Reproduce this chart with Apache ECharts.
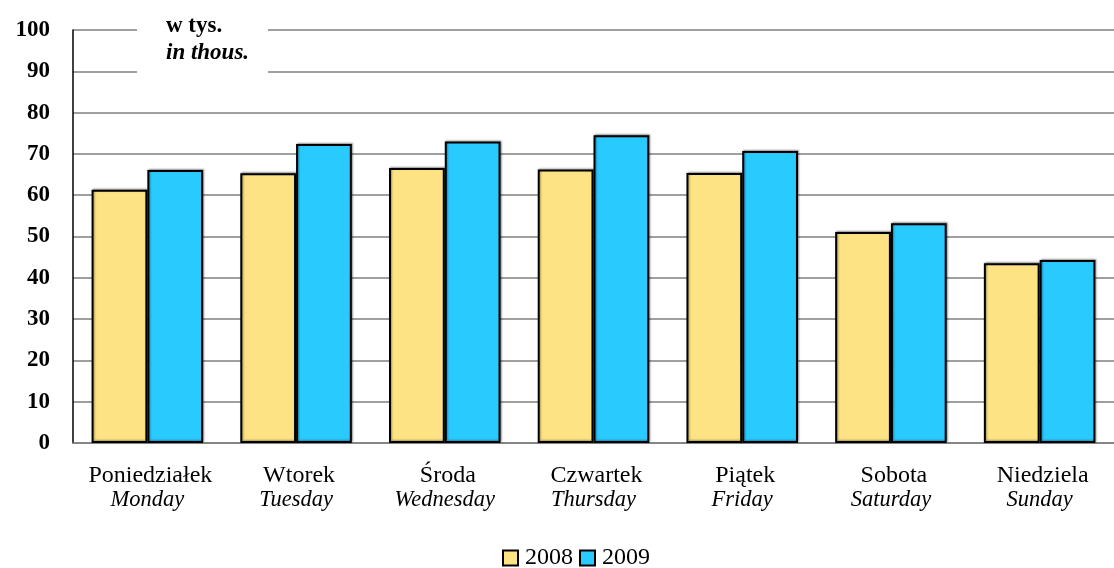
<!DOCTYPE html>
<html><head><meta charset="utf-8">
<script src="https://cdn.jsdelivr.net/npm/echarts@6/dist/echarts.min.js"></script>
<style>html,body{margin:0;padding:0;background:#fff}#c{width:1114px;height:568px}</style>
</head><body><div id="c"></div>
<script>
const categoriesPL = ['Poniedziałek','Wtorek','Środa','Czwartek','Piątek','Sobota','Niedziela'];
const categoriesEN = ['Monday','Tuesday','Wednesday','Thursday','Friday','Saturday','Sunday'];
const values2008 = [61.3, 65.3, 66.6, 66.2, 65.4, 51.1, 43.5];
const values2009 = [66.1, 72.4, 73.0, 74.5, 70.7, 53.2, 44.3];
const seriesNames = ['2008','2009'];
const unitLines = ['w tys.','in thous.'];

const FF = '"Liberation Serif","Times New Roman",serif';
const chart = echarts.init(document.getElementById('c'));
const barStyle = (c) => ({color:c, borderColor:'#000', borderWidth:2,
  shadowColor:'rgba(0,0,0,0.35)', shadowBlur:2, shadowOffsetX:1, shadowOffsetY:-1});
chart.setOption({
  animation:false,
  backgroundColor:'#fff',
  grid:{left:73, top:30, width:1048, height:413, containLabel:false},
  legend:{
    top:541, left:497, itemWidth:15, itemHeight:15, itemGap:6,
    icon:'rect',
    textStyle:{fontFamily:FF, fontSize:24, color:'#000', padding:[0,0,0,2]},
    data:seriesNames
  },
  xAxis:{
    type:'category',
    data:categoriesPL.map((p,i)=>p+'\n'+categoriesEN[i]),
    axisTick:{show:false},
    axisLine:{lineStyle:{color:'#7f7f7f', width:1.5}},
    axisLabel:{
      margin:20, interval:0,
      formatter:(v)=>{const [a,b]=v.split('\n'); return '{a|'+a+'}\n{b|'+b+'}';},
      rich:{
        a:{fontFamily:FF, fontSize:24, color:'#000', lineHeight:25, padding:[0,0,0,6]},
        b:{fontFamily:FF, fontSize:22.5, fontStyle:'italic', color:'#000', lineHeight:25}
      }
    }
  },
  yAxis:{
    type:'value', min:0, max:100, interval:10,
    axisLine:{show:true, lineStyle:{color:'#000', width:1.5}},
    axisTick:{show:false},
    splitLine:{lineStyle:{color:'#7f7f7f', width:1.5}},
    axisLabel:{fontFamily:FF, fontSize:23, fontWeight:'bold', color:'#000', margin:23}
  },
  series:[
    {name:seriesNames[0], type:'bar', data:values2008, barGap:'0%', barCategoryGap:'25%',
     itemStyle:barStyle('#FDE383')},
    {name:seriesNames[1], type:'bar', data:values2009, barGap:'0%', barCategoryGap:'25%',
     itemStyle:barStyle('#29CBFF')}
  ],
  graphic:[
    {type:'rect', left:137, top:20, shape:{width:131, height:62}, style:{fill:'#fff'}, z:50},
    {type:'text', left:166, top:15, z:51, style:{text:unitLines[0], font:'bold 23px '+FF, fill:'#000'}},
    {type:'text', left:166, top:42, z:51, style:{text:unitLines[1], font:'italic bold 23px '+FF, fill:'#000'}}
  ]
});
</script></body></html>
